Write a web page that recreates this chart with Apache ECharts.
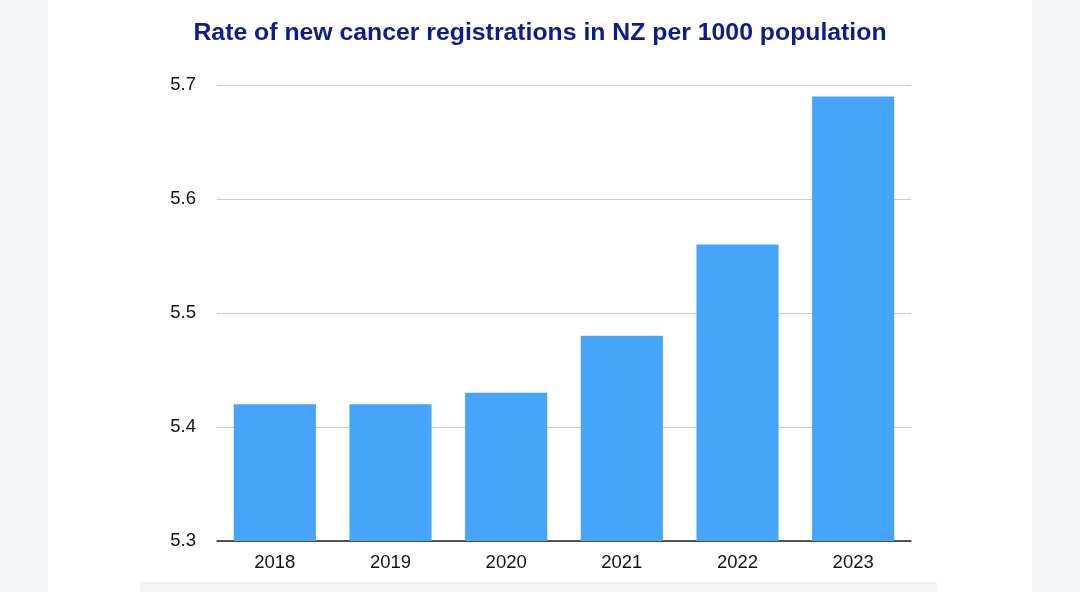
<!DOCTYPE html>
<html>
<head>
<meta charset="utf-8">
<script src="https://cdn.jsdelivr.net/npm/echarts@6/dist/echarts.min.js"></script>
<style>
  html, body { margin: 0; padding: 0; background: #f2f3f5; }
  #panel { position: absolute; left: 48px; top: 0; width: 984px; height: 592px; background: #ffffff; }
  #strip { position: absolute; left: 140px; top: 582px; width: 797px; height: 10px; background: #f4f4f5; }
  #chart { position: absolute; left: 0; top: 0; width: 1080px; height: 592px; }
</style>
</head>
<body>
<div id="panel"></div>
<div id="strip"></div>
<div id="chart"></div>
<script>
// 新增癌症登记率（每千人）
var years = ['2018', '2019', '2020', '2021', '2022', '2023'];
var rates = [5.42, 5.42, 5.43, 5.48, 5.56, 5.69];
var yTicks = [5.3, 5.4, 5.5, 5.6, 5.7];

var myChart = echarts.init(document.getElementById('chart'));
myChart.setOption({
    backgroundColor: 'transparent',
    textStyle: { fontFamily: 'Liberation Sans, Arial, sans-serif' },
    title: {
        text: 'Rate of new cancer registrations in NZ per 1000 population',
        left: 'center',
        top: 16,
        textStyle: {
            color: '#0c1b8f',
            fontWeight: 'bold',
            fontSize: 24.8,
            fontFamily: 'Liberation Sans, Arial, sans-serif'
        }
    },
    grid: {
        left: 217,
        right: 169,
        top: 85,
        bottom: 51,
        containLabel: false
    },
    xAxis: {
        type: 'category',
        data: years,
        axisLine: { lineStyle: { color: '#222', width: 1.5 } },
        axisTick: { show: false },
        axisLabel: { color: '#111', fontSize: 18.5, margin: 12 }
    },
    yAxis: {
        type: 'value',
        min: yTicks[0],
        max: yTicks[yTicks.length - 1],
        interval: 0.1,
        axisLine: { show: false },
        axisTick: { show: false },
        splitLine: { lineStyle: { color: '#cccccc', width: 1 } },
        axisLabel: {
            color: '#111',
            fontSize: 18.5,
            margin: 21,
            padding: [2, 0, 0, 0],
            formatter: function (v) { return v.toFixed(1); }
        }
    },
    series: [{
        name: 'Rate',
        type: 'bar',
        data: rates,
        barCategoryGap: '29%',
        itemStyle: { color: '#47a4fb' }
    }]
});
window.addEventListener('resize', function () { myChart.resize(); });
</script>
</body>
</html>
